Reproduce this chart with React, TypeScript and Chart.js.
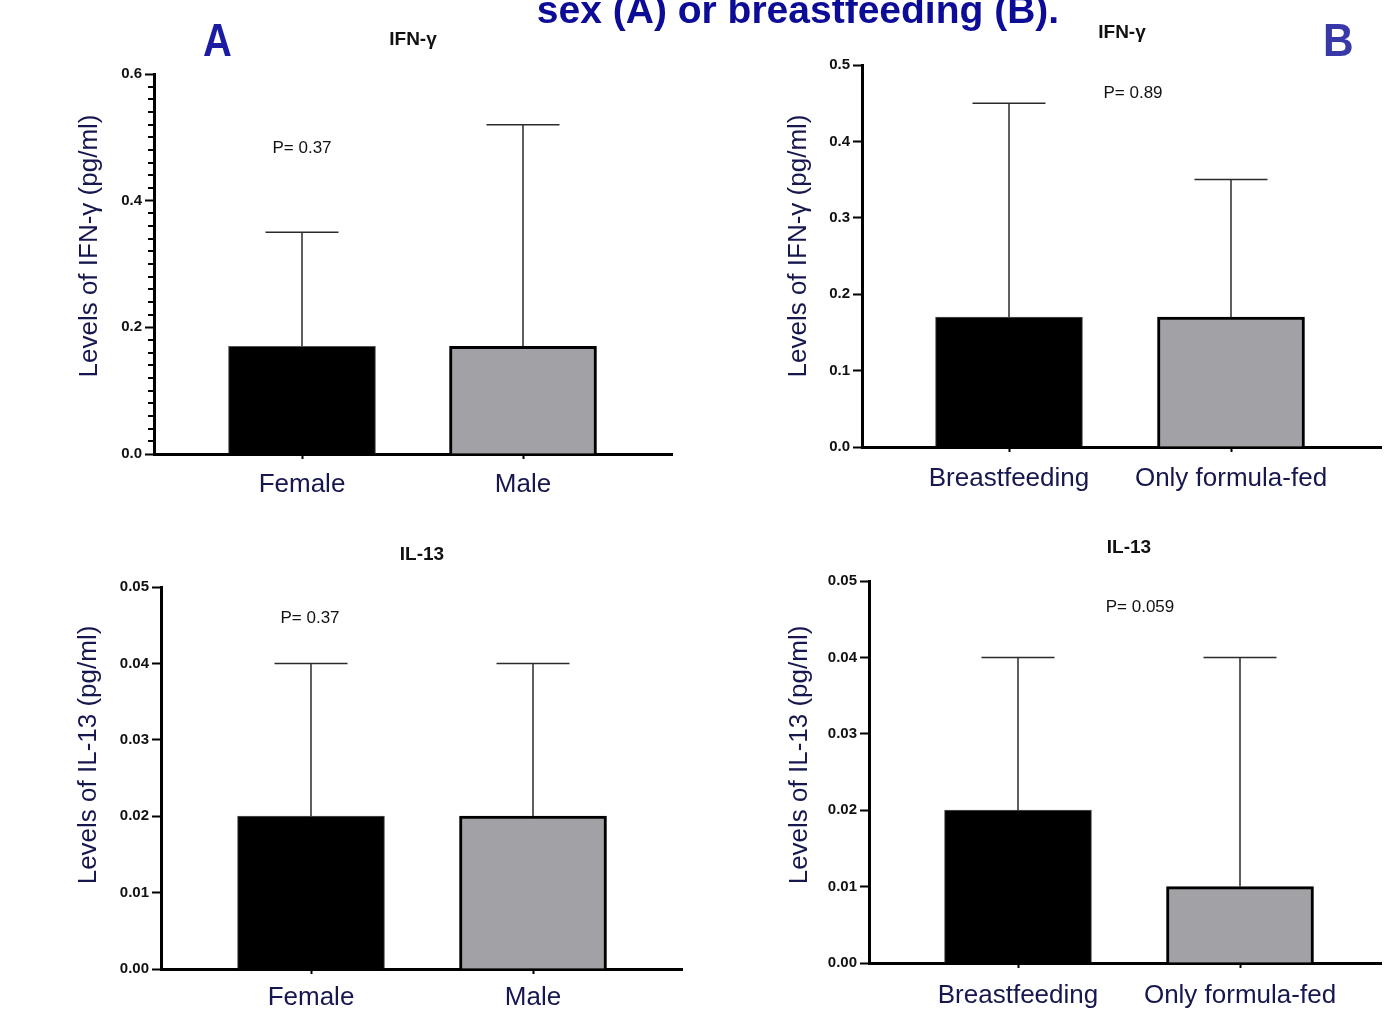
import React, { useEffect, useRef } from 'react';
import { Chart, registerables } from 'chart.js';

Chart.register(...registerables);

// ---------------- DATA ----------------
const sexCategories = ['Female', 'Male'];
const feedingCategories = ['Breastfeeding', 'Only formula-fed'];

const ifnSexMeans = [0.17, 0.17];
const ifnSexSDs = [0.18, 0.35];
const ifnFeedMeans = [0.17, 0.17];
const ifnFeedSDs = [0.28, 0.18];
const il13SexMeans = [0.02, 0.02];
const il13SexSDs = [0.02, 0.02];
const il13FeedMeans = [0.02, 0.01];
const il13FeedSDs = [0.02, 0.03];

const ifnSexTicks = ['0.0', '0.2', '0.4', '0.6'];
const ifnSexMinorStep = 0.02;
const ifnFeedTicks = ['0.0', '0.1', '0.2', '0.3', '0.4', '0.5'];
const il13Ticks = ['0.00', '0.01', '0.02', '0.03', '0.04', '0.05'];

const ifnTitle = 'IFN-γ';
const il13Title = 'IL-13';
const ifnYTitle = 'Levels of IFN-γ (pg/ml)';
const il13YTitle = 'Levels of IL-13 (pg/ml)';
const pValues = ['P= 0.37', 'P= 0.89', 'P= 0.37', 'P= 0.059'];
const heading = 'sex (A) or breastfeeding (B).';

// ---------------- STYLE / LAYOUT ----------------
const FONT = "'Liberation Sans', Arial, Helvetica, sans-serif";
const NAVY = '#17174f';
const BAR_FILLS = ['#000000', '#a2a1a6'];
const BAR_BORDERS = ['#555555', '#000000'];
const BAR_BORDER_W = [1, 3];
const YW = 50;

type Layout = {
  box: [number, number, number, number];
  axisX: number;
  y0: number;
  yTop: number;
  xRight: number;
  centers: [number, number];
  labelPad: number;
  xh: number;
  titlePos: [number, number];
  pPos: [number, number];
  yTitlePos: [number, number];
};

type Panel = {
  categories: string[];
  means: number[];
  sds: number[];
  yTicks: string[];
  minorStep?: number;
  title: string;
  pValue: string;
  yTitle: string;
  layout: Layout;
};

const panels: Panel[] = [
  {
    categories: sexCategories, means: ifnSexMeans, sds: ifnSexSDs, yTicks: ifnSexTicks,
    minorStep: ifnSexMinorStep, title: ifnTitle, pValue: pValues[0], yTitle: ifnYTitle,
    layout: {
      box: [0, 0, 700, 515], axisX: 154, y0: 454, yTop: 74, xRight: 672, xh: 55,
      centers: [302, 523], labelPad: 10, titlePos: [413, 45], pPos: [302, 153], yTitlePos: [97, 246],
    },
  },
  {
    categories: feedingCategories, means: ifnFeedMeans, sds: ifnFeedSDs, yTicks: ifnFeedTicks,
    title: ifnTitle, pValue: pValues[1], yTitle: ifnYTitle,
    layout: {
      box: [700, 0, 684, 515], axisX: 862, y0: 447, yTop: 65, xRight: 1381, xh: 55,
      centers: [1009, 1231], labelPad: 11, titlePos: [1122, 38], pPos: [1133, 98], yTitlePos: [806, 246],
    },
  },
  {
    categories: sexCategories, means: il13SexMeans, sds: il13SexSDs, yTicks: il13Ticks,
    title: il13Title, pValue: pValues[2], yTitle: il13YTitle,
    layout: {
      box: [0, 515, 700, 494], axisX: 161, y0: 969, yTop: 587, xRight: 682, xh: 40,
      centers: [311, 533], labelPad: 8, titlePos: [422, 560], pPos: [310, 623], yTitlePos: [96, 755],
    },
  },
  {
    categories: feedingCategories, means: il13FeedMeans, sds: il13FeedSDs, yTicks: il13Ticks,
    title: il13Title, pValue: pValues[3], yTitle: il13YTitle,
    layout: {
      box: [700, 515, 684, 494], axisX: 869, y0: 963, yTop: 581, xRight: 1381, xh: 46,
      centers: [1018, 1240], labelPad: 12, titlePos: [1129, 553], pPos: [1140, 612], yTitlePos: [807, 755],
    },
  },
];

function PanelChart({ panel }: { panel: Panel }) {
  const ref = useRef<HTMLCanvasElement | null>(null);
  const L = panel.layout;
  const [bx, by, bw, bh] = L.box;

  useEffect(() => {
    if (!ref.current) return;
    const unit = L.centers[1] - L.centers[0];
    const xMin = (L.axisX - L.centers[0]) / unit;
    const xMax = panel.categories.length - 1 + (L.xRight - L.centers[1]) / unit;
    const tickVals = panel.yTicks.map((t) => parseFloat(t));
    const yMax = tickVals[tickVals.length - 1];
    const majorStep = tickVals[1] - tickVals[0];

    const errorBars = {
      id: 'errorBars',
      afterDatasetsDraw(chart: any) {
        const { ctx } = chart;
        const xs = chart.scales.x;
        const ys = chart.scales.y;
        ctx.save();
        ctx.strokeStyle = '#2b2b2b';
        ctx.lineWidth = 1.5;
        panel.means.forEach((m, i) => {
          const px = xs.getPixelForValue(i);
          const yb = ys.getPixelForValue(m);
          const yt = ys.getPixelForValue(m + panel.sds[i]);
          ctx.beginPath();
          ctx.moveTo(px, yb);
          ctx.lineTo(px, yt);
          ctx.moveTo(px - 36.5, yt);
          ctx.lineTo(px + 36.5, yt);
          ctx.stroke();
        });
        ctx.restore();
      },
    };

    const extras = {
      id: 'extras',
      afterDraw(chart: any) {
        const { ctx } = chart;
        const ys = chart.scales.y;
        ctx.save();
        if (panel.minorStep) {
          const n = Math.round(yMax / panel.minorStep);
          ctx.strokeStyle = '#000';
          ctx.lineWidth = 2;
          const left = chart.chartArea.left;
          for (let k = 0; k <= n; k++) {
            const v = k * panel.minorStep;
            const r = v / majorStep;
            if (Math.abs(r - Math.round(r)) < 1e-6) continue;
            const py = Math.round(ys.getPixelForValue(v));
            ctx.beginPath();
            ctx.moveTo(left - 6, py);
            ctx.lineTo(left, py);
            ctx.stroke();
          }
        }
        ctx.fillStyle = '#111';
        ctx.textAlign = 'center';
        ctx.textBaseline = 'alphabetic';
        ctx.font = `bold 19px ${FONT}`;
        ctx.fillText(panel.title, L.titlePos[0] - bx, L.titlePos[1] - by);
        ctx.font = `17px ${FONT}`;
        ctx.fillText(panel.pValue, L.pPos[0] - bx, L.pPos[1] - by);
        ctx.translate(L.yTitlePos[0] - bx, L.yTitlePos[1] - by);
        ctx.rotate(-Math.PI / 2);
        ctx.fillStyle = NAVY;
        ctx.font = `26px ${FONT}`;
        ctx.fillText(panel.yTitle, 0, 0);
        ctx.restore();
      },
    };

    const chart = new Chart(ref.current, {
      type: 'bar',
      data: {
        datasets: [
          {
            data: panel.means.map((m, i) => ({ x: i, y: m })),
            backgroundColor: BAR_FILLS,
            borderColor: BAR_BORDERS,
            borderWidth: BAR_BORDER_W,
            barThickness: 147,
          } as any,
        ],
      },
      options: {
        animation: false,
        responsive: false,
        maintainAspectRatio: false,
        layout: {
          padding: {
            left: L.axisX - bx - YW,
            top: L.yTop - by,
            right: bx + bw - L.xRight,
            bottom: Math.max(0, bh - L.xh - (L.y0 - by)),
          },
        },
        plugins: {
          legend: { display: false },
          tooltip: { enabled: false },
          title: { display: false },
        },
        scales: {
          x: {
            type: 'linear',
            min: xMin,
            max: xMax,
            offset: false,
            z: 1,
            grid: {
              display: true,
              drawOnChartArea: false,
              drawTicks: true,
              tickLength: 5,
              tickWidth: 2,
              tickColor: '#000',
              offset: false,
            },
            border: { display: true, width: 3, color: '#000' },
            afterBuildTicks: (s: any) => {
              s.ticks = panel.categories.map((_, i) => ({ value: i }));
            },
            afterFit: (s: any) => {
              s.height = L.xh;
            },
            ticks: {
              autoSkip: false,
              maxRotation: 0,
              padding: L.labelPad,
              color: NAVY,
              font: { family: FONT, size: 26 },
              callback: (v: any) => panel.categories[Math.round(Number(v))] ?? '',
            },
          },
          y: {
            type: 'linear',
            min: 0,
            max: yMax,
            z: 1,
            grid: {
              display: true,
              drawOnChartArea: false,
              drawTicks: true,
              tickLength: 9,
              tickWidth: 2,
              tickColor: '#000',
            },
            border: { display: true, width: 3, color: '#000' },
            afterBuildTicks: (s: any) => {
              s.ticks = tickVals.map((v) => ({ value: v }));
            },
            afterFit: (s: any) => {
              s.width = YW;
            },
            ticks: {
              padding: 3,
              color: '#111',
              font: { family: FONT, size: 15, weight: 'bold' },
              callback: (_v: any, i: number) => panel.yTicks[i],
            },
          },
        },
      } as any,
      plugins: [errorBars, extras],
    });
    return () => chart.destroy();
  }, [panel]);

  return (
    <canvas
      ref={ref}
      width={bw}
      height={bh}
      style={{ position: 'absolute', left: bx, top: by, width: bw, height: bh }}
    />
  );
}

export default function App() {
  return (
    <div
      style={{
        position: 'absolute',
        left: 0,
        top: 0,
        width: 1384,
        height: 1009,
        overflow: 'hidden',
        background: '#fff',
        fontFamily: FONT,
      }}
    >
      {panels.map((p, i) => (
        <PanelChart key={i} panel={p} />
      ))}
      <div
        style={{
          position: 'absolute',
          left: 798,
          top: -10,
          transform: 'translateX(-50%)',
          whiteSpace: 'nowrap',
          fontWeight: 'bold',
          fontSize: 39,
          lineHeight: '40px',
          color: '#0c0c96',
        }}
      >
        {heading}
      </div>
      <div
        style={{
          position: 'absolute',
          left: 203,
          top: 16,
          fontWeight: 'bold',
          fontSize: 47,
          lineHeight: '47px',
          color: '#1c1ca2',
          transform: 'scaleX(0.85)',
          transformOrigin: 'left top',
        }}
      >
        A
      </div>
      <div
        style={{
          position: 'absolute',
          left: 1323,
          top: 16,
          fontWeight: 'bold',
          fontSize: 47,
          lineHeight: '47px',
          color: '#3838a8',
          transform: 'scaleX(0.9)',
          transformOrigin: 'left top',
        }}
      >
        B
      </div>
    </div>
  );
}
